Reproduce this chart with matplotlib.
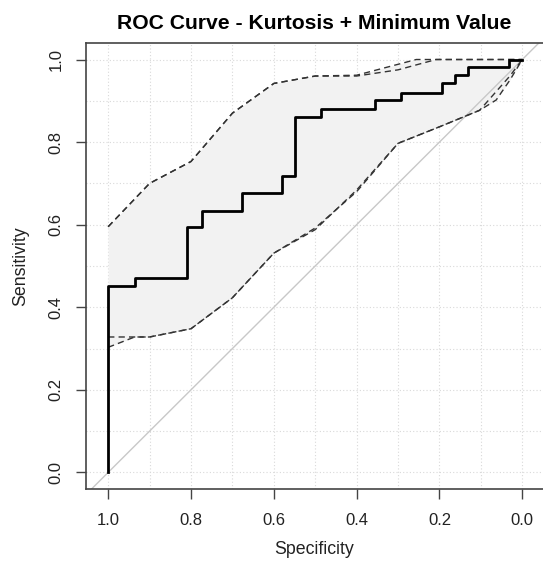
import matplotlib.pyplot as plt
import numpy as np

plt.rcParams['font.family'] = ['Liberation Sans', 'DejaVu Sans']

# ROC step curve (specificity, sensitivity)
roc_spec = [1.0, 1.0, 0.936, 0.936, 0.809, 0.809, 0.773, 0.773, 0.677, 0.677,
            0.581, 0.581, 0.550, 0.550, 0.486, 0.486, 0.355, 0.355, 0.292, 0.292,
            0.194, 0.194, 0.162, 0.162, 0.131, 0.131, 0.032, 0.032, 0.0]
roc_sens = [0.0, 0.452, 0.452, 0.472, 0.472, 0.594, 0.594, 0.634, 0.634, 0.676,
            0.676, 0.717, 0.717, 0.860, 0.860, 0.880, 0.880, 0.902, 0.902, 0.920,
            0.920, 0.942, 0.942, 0.962, 0.962, 0.981, 0.981, 1.0, 1.0]

# confidence band, upper bounds (two estimates)
upper_spec = [1.0, 0.90, 0.80, 0.70, 0.60, 0.50, 0.40, 0.256, 0.0]
upper_sens = [0.595, 0.70, 0.753, 0.87, 0.942, 0.96, 0.962, 1.0, 1.0]
upper2_spec = [1.0, 0.90, 0.80, 0.70, 0.60, 0.50, 0.40, 0.30, 0.208, 0.0]
upper2_sens = [0.595, 0.70, 0.753, 0.87, 0.942, 0.96, 0.960, 0.975, 1.0, 1.0]

# confidence band, lower bounds (two estimates)
lower_spec = [1.0, 0.90, 0.80, 0.70, 0.60, 0.50, 0.40, 0.30, 0.20, 0.103, 0.03, 0.0]
lower_sens = [0.328, 0.328, 0.348, 0.423, 0.531, 0.588, 0.684, 0.797, 0.837, 0.877, 0.96, 1.0]
lower2_spec = [1.0, 0.936, 0.90, 0.80, 0.70, 0.60, 0.50, 0.40, 0.30, 0.20, 0.103, 0.063, 0.03, 0.0]
lower2_sens = [0.303, 0.328, 0.328, 0.348, 0.423, 0.531, 0.592, 0.680, 0.797, 0.837, 0.877, 0.902, 0.95, 1.0]

ticks = [1.0, 0.8, 0.6, 0.4, 0.2, 0.0]
tick_labels = ['1.0', '0.8', '0.6', '0.4', '0.2', '0.0']

fig = plt.figure(figsize=(5.43, 5.62), dpi=100)
ax = fig.add_axes([0.158, 0.130, 0.842, 0.7935])

grid = np.arange(0, 1.01, 0.1)
for g in grid:
    ax.axvline(g, color='#d9d9d9', lw=0.8, ls=(0, (1, 2)), zorder=0)
    ax.axhline(g, color='#d9d9d9', lw=0.8, ls=(0, (1, 2)), zorder=0)

# shaded band between outer bounds
band_x = np.linspace(0, 1, 400)
up = np.maximum(np.interp(band_x, upper_spec[::-1], upper_sens[::-1]),
                np.interp(band_x, upper2_spec[::-1], upper2_sens[::-1]))
lo = np.minimum(np.interp(band_x, lower_spec[::-1], lower_sens[::-1]),
                np.interp(band_x, lower2_spec[::-1], lower2_sens[::-1]))
ax.fill_between(band_x, lo, up, color='#f2f2f2', lw=0, zorder=1)

ax.plot([1.2, -0.2], [-0.2, 1.2], color='#c8c8c8', lw=1, zorder=2)

for xs, ys in [(upper_spec, upper_sens), (upper2_spec, upper2_sens),
               (lower_spec, lower_sens), (lower2_spec, lower2_sens)]:
    ax.plot(xs, ys, color='#333333', lw=1, ls=(0, (4.5, 3)), zorder=3)

ax.plot(roc_spec, roc_sens, color='black', lw=2, zorder=4)

ax.set_xlim(1.054, -0.05)
ax.set_ylim(-0.04, 1.04)
ax.set_xticks(ticks)
ax.set_xticklabels(tick_labels)
ax.set_yticks(ticks)
ax.set_yticklabels(tick_labels, rotation=90, va='center')
ax.tick_params(length=7, width=1, color='#444444', labelsize=12, labelcolor='#222222')
ax.tick_params(axis='x', pad=10)
ax.tick_params(axis='y', pad=9)
ax.spines['right'].set_visible(False)
for s in ['top', 'left', 'bottom']:
    ax.spines[s].set_color('#444444')
    ax.spines[s].set_linewidth(1.2)

ax.set_xlabel('Specificity', fontsize=12.8, color='#222222', labelpad=10)
ax.set_ylabel('Sensitivity', fontsize=12.8, color='#222222', labelpad=14)
fig.text(0.578, 0.959, 'ROC Curve - Kurtosis + Minimum Value', ha='center', va='center',
         fontsize=15.2, fontweight='bold')

fig.savefig('out.png', dpi=100)
